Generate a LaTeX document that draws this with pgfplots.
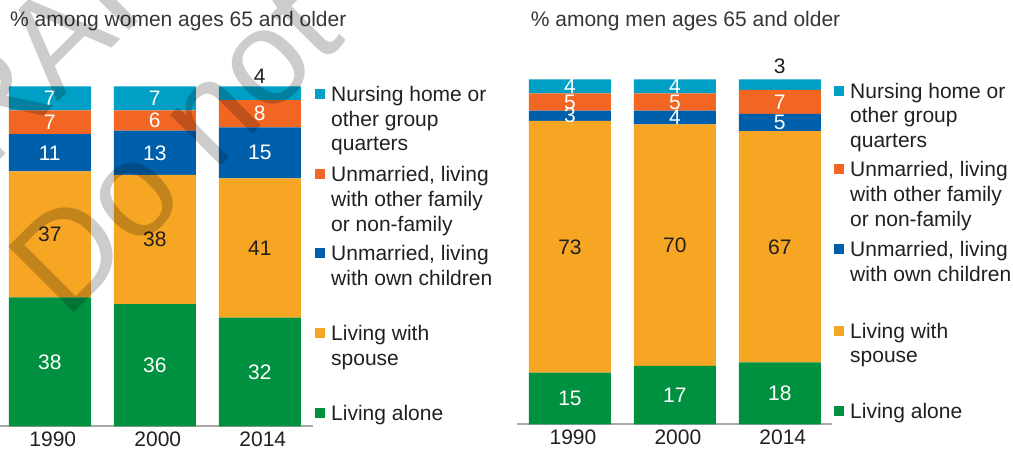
\documentclass[border=0pt]{standalone}
\usepackage{pgfplots}
\pgfplotsset{compat=1.18}
\usepackage{fontspec}
\setmainfont{Liberation Sans}
\definecolor{cNurs}{RGB}{0,160,198}
\definecolor{cOther}{RGB}{242,102,35}
\definecolor{cOwn}{RGB}{0,95,170}
\definecolor{cSpouse}{RGB}{246,166,35}
\definecolor{cAlone}{RGB}{0,145,64}
\definecolor{txt}{RGB}{35,31,32}
\definecolor{axisgray}{RGB}{170,170,170}
\newcommand{\bigfont}{\fontsize{21}{25}\selectfont}
\pgfplotsset{
  panel/.style={
    ybar stacked, bar width=82pt,
    scale only axis, height=#1,
    ymin=0, ymax=100,
    axis y line=none, axis x line*=bottom,
    x axis line style={draw=axisgray, line width=2pt, -},
    xtick={0,1,2}, xticklabels={1990,2000,2014},
    major tick length=0pt,
    xticklabel style={font=\bigfont, text=txt, anchor=base, yshift=-20pt, xshift=3pt, inner sep=0pt},
    clip=false,
  },
  labaxis/.style={
    scale only axis, height=#1, ymin=0, ymax=100, hide axis, clip=false,
  },
  lab/.style={draw=none, mark=none, nodes near coords, point meta=explicit symbolic,
    nodes near coords align={center},
    every node near coord/.append style={font=\bigfont, text=#1, inner sep=0pt}},
}
\newcommand{\legline}[3]{\node[anchor=base west, inner sep=0pt, font=\bigfont, text=txt] at (#1pt,#2pt) {#3};}
\newcommand{\legsq}[3]{\fill[#3] (#1pt,#2pt) rectangle ++(10pt,10pt);}
\begin{document}
\begin{tikzpicture}[x=1pt,y=1pt]
\useasboundingbox (0,0) rectangle (1013,449);
% ---------- women ----------
\begin{axis}[panel=340pt, width=313pt, xmin=-0.474, xmax=2.507, at={(0pt,22.5pt)}, anchor=south west]
\addplot[fill=cAlone, draw=none] coordinates {(0,38) (1,36) (2,32)};
\addplot[fill=cSpouse, draw=none] coordinates {(0,37) (1,38) (2,41)};
\addplot[fill=cOwn, draw=none] coordinates {(0,11) (1,13) (2,15)};
\addplot[fill=cOther, draw=none] coordinates {(0,7) (1,6) (2,8)};
\addplot[fill=cNurs, draw=none] coordinates {(0,7) (1,7) (2,4)};
\end{axis}
\begin{axis}[labaxis=340pt, width=313pt, xmin=-0.474, xmax=2.507, at={(0pt,22.5pt)}, anchor=south west]
\addplot[lab=white] coordinates {(0,19)[38] (1,18)[36] (2,16)[32] (0,80.5)[11] (1,80.5)[13] (2,80.5)[15] (0,89.5)[7] (1,90)[6] (2,92)[8] (0,96.5)[7] (1,96.5)[7]};
\addplot[lab=txt] coordinates {(0,56.5)[37] (1,55)[38] (2,52.5)[41] (2,103)[4]};
\end{axis}
% ---------- men ----------
\begin{axis}[panel=345pt, width=315pt, xmin=-0.505, xmax=2.498, at={(517pt,24.5pt)}, anchor=south west]
\addplot[fill=cAlone, draw=none] coordinates {(0,15) (1,17) (2,18)};
\addplot[fill=cSpouse, draw=none] coordinates {(0,73) (1,70) (2,67)};
\addplot[fill=cOwn, draw=none] coordinates {(0,3) (1,4) (2,5)};
\addplot[fill=cOther, draw=none] coordinates {(0,5) (1,5) (2,7)};
\addplot[fill=cNurs, draw=none] coordinates {(0,4) (1,4) (2,3)};
\end{axis}
\begin{axis}[labaxis=345pt, width=315pt, xmin=-0.505, xmax=2.498, at={(517pt,24.5pt)}, anchor=south west]
\addplot[lab=white] coordinates {(0,7.5)[15] (1,8.5)[17] (2,9)[18] (0,89.5)[3] (1,89)[4] (2,87.5)[5] (0,93.5)[5] (1,93.5)[5] (2,93.5)[7] (0,98)[4] (1,98)[4]};
\addplot[lab=txt] coordinates {(0,51.5)[73] (1,52)[70] (2,51.5)[67] (2,103.7)[3]};
\end{axis}
% ---------- titles ----------
\node[anchor=base west, inner sep=0pt, font=\bigfont, text=txt!90] at (10pt,422.3pt) {\% among women ages 65 and older};
\node[anchor=base west, inner sep=0pt, font=\bigfont, text=txt!90] at (530.7pt,422.3pt) {\% among men ages 65 and older};
% ---------- legend women ----------
\legsq{315}{350}{cNurs}
\legline{331}{347.3}{Nursing home or}
\legline{331}{322.7}{other group}
\legline{331}{298.1}{quarters}
\legsq{315}{270}{cOther}
\legline{331}{267.3}{Unmarried, living}
\legline{331}{242.6}{with other family}
\legline{331}{217.9}{or non-family}
\legsq{315}{190.7}{cOwn}
\legline{331}{188}{Unmarried, living}
\legline{331}{163.3}{with own children}
\legsq{315}{111}{cSpouse}
\legline{331}{108.3}{Living with}
\legline{331}{83.7}{spouse}
\legsq{315}{31}{cAlone}
\legline{331}{28.3}{Living alone}
% ---------- legend men ----------
\legsq{834}{353.4}{cNurs}
\legline{850}{350.7}{Nursing home or}
\legline{850}{326.1}{other group}
\legline{850}{301.5}{quarters}
\legsq{834}{275}{cOther}
\legline{850}{272.3}{Unmarried, living}
\legline{850}{247.6}{with other family}
\legline{850}{222.9}{or non-family}
\legsq{834}{195}{cOwn}
\legline{850}{192.3}{Unmarried, living}
\legline{850}{167.5}{with own children}
\legsq{834}{113.4}{cSpouse}
\legline{850}{110.7}{Living with}
\legline{850}{86.1}{spouse}
\legsq{834}{33.4}{cAlone}
\legline{850}{30.7}{Living alone}
% ---------- watermark ----------
\node[rotate=45, anchor=base west, inner sep=0pt, font=\fontsize{135}{160}\selectfont, text=black, opacity=0.2] at (66pt,128pt) {Do not cite};
\node[rotate=45, anchor=base west, inner sep=0pt, font=\fontsize{135}{160}\selectfont, text=black, opacity=0.2] at (-80pt,209pt) {DRAFT};
\end{tikzpicture}
\end{document}
